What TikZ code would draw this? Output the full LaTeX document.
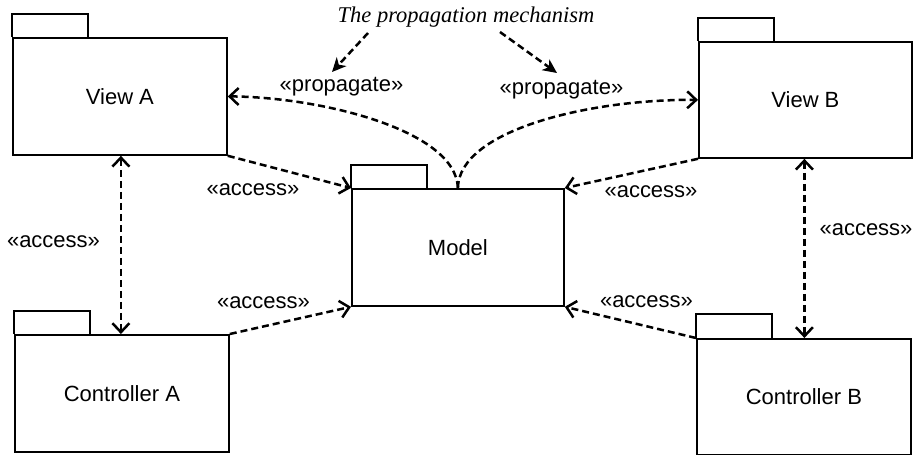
\documentclass[tikz,border=0pt]{standalone}
\usepackage{fontspec}
\setmainfont{Liberation Sans}
\newfontfamily\titlefont{Liberation Serif}
\usetikzlibrary{arrows.meta}
\begin{document}
\begin{tikzpicture}[x=1pt,y=-1pt,
  txt/.style={font=\fontsize{22}{26}\selectfont},
  pkg/.style={draw, line width=1.8pt, anchor=north west, inner sep=0pt, txt},
  tab/.style={line width=1.8pt, line join=miter},
  lbl/.style={anchor=base, inner sep=0pt, txt},
  dep/.style={line width=2.5pt, dash pattern=on 7pt off 4pt},
  open/.style={-{Straight Barb[length=9pt,width=17pt]}},
  both/.style={{Straight Barb[length=9pt,width=17pt]}-{Straight Barb[length=9pt,width=17pt]}},
  note/.style={line width=2.5pt, dash pattern=on 7pt off 4pt, -{Stealth[length=14pt,width=13pt,inset=4pt]}}
]
\useasboundingbox (0,0) rectangle (916,455);

% packages
\node[pkg, minimum width=214pt, minimum height=117pt] (va) at (12,37) {View A};
\node[pkg, minimum width=212pt, minimum height=117pt] (m) at (351,188) {Model};
\node[pkg, minimum width=213pt, minimum height=116pt] (vb) at (698,41) {View B};
\node[pkg, minimum width=214pt, minimum height=117pt] (ca) at (14,334) {Controller A};
\node[pkg, minimum width=214pt, minimum height=116pt] (cb) at (696,338) {Controller B};

\draw[tab] (va.north west) -- ++(0,-23) -- ++(76,0) -- ++(0,23);
\draw[tab] (m.north west) -- ++(0,-23) -- ++(76,0) -- ++(0,23);
\draw[tab] (vb.north west) -- ++(0,-23) -- ++(76,0) -- ++(0,23);
\draw[tab] (ca.north west) -- ++(0,-23) -- ++(76,0) -- ++(0,23);
\draw[tab] (cb.north west) -- ++(0,-24) -- ++(76,0) -- ++(0,24);

% access dependencies
\draw[dep, open] (va.south east) -- (m.north west);
\draw[dep, open] (ca.north east) -- (m.south west);
\draw[dep, open] (vb.south west) -- (m.north east);
\draw[dep, open] (cb.north west) -- (m.south east);
\draw[dep, both] ([xshift=1pt]va.south) -- ([xshift=1pt]va.south |- ca.north);
\draw[dep, both] ([xshift=-1pt]vb.south) -- ([xshift=-1pt]vb.south |- cb.north);

% propagate
\draw[dep, open] (m.north) .. controls (456,130) and (320,97) .. (va.east);
\draw[dep, open] (m.north) .. controls (459,130) and (590,99) .. (vb.west);

% labels
\node[lbl] (l1) at (53.5,247) {«access»};
\node[lbl] (l2) at (253,195) {«access»};
\node[lbl] (l3) at (263.5,308) {«access»};
\node[lbl] (l4) at (651,197) {«access»};
\node[lbl] (l5) at (646.5,307) {«access»};
\node[lbl] (l6) at (866,235) {«access»};
\node[lbl] (pl) at (341.5,91) {«propagate»};
\node[lbl] (pr) at (561.5,94) {«propagate»};

\node[anchor=base, inner sep=0pt, font=\fontsize{22.5}{26}\selectfont\titlefont\itshape] (title) at (466,23) {The propagation mechanism};
\coordinate (t1) at (368,33);
\coordinate (t2) at (500,32);
\coordinate (e1) at (332,72);
\coordinate (e2) at (557,73);
\draw[note] (t1) -- (e1);
\draw[note] (t2) -- (e2);
\end{tikzpicture}
\end{document}
